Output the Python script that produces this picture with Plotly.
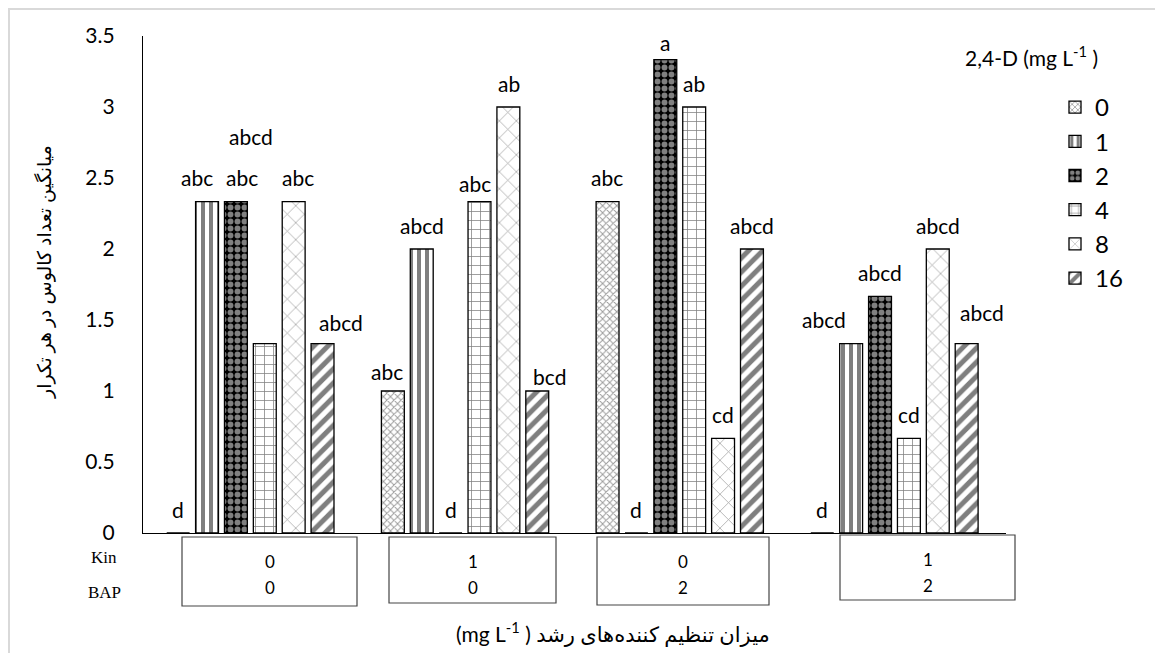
import plotly.graph_objects as go

# ---------------- data ----------------
kin = ["0", "1", "0", "1"]
bap = ["0", "0", "2", "2"]
categories = [f"Kin {k} / BAP {b}" for k, b in zip(kin, bap)]

series_names = ["0", "1", "2", "4", "8", "16"]
val_0 = [0.0, 1.0, 2.333, 0.0]
val_1 = [2.333, 2.0, 0.0, 1.333]
val_2 = [2.333, 0.0, 3.333, 1.667]
val_4 = [1.333, 2.333, 3.0, 0.667]
val_8 = [2.333, 3.0, 0.667, 2.0]
val_16 = [1.333, 1.0, 2.0, 1.333]
values = [val_0, val_1, val_2, val_4, val_8, val_16]

let_0 = ["d", "abc", "abc", "d"]
let_1 = ["abc", "abcd", "d", "abcd"]
let_2 = ["abc", "d", "a", "abcd"]
let_4 = ["abcd", "abc", "ab", "cd"]
let_8 = ["abc", "ab", "cd", "abcd"]
let_16 = ["abcd", "bcd", "abcd", "abcd"]
letters = [let_0, let_1, let_2, let_4, let_8, let_16]

y_tick_vals = [0, 0.5, 1, 1.5, 2, 2.5, 3, 3.5]

# ---------------- styling ----------------
PAGE_OFF = 8                      # default body margin of the html page
SW, SH = 1163, 653                # screen size
W, H = SW - PAGE_OFF, SH - PAGE_OFF
PL, PR, PT, PB = 143, 1006, 36, 533   # plot area in screen pixels
PW, PH = PR - PL, PB - PT
BARGAP, GROUPGAP = 0.193, 0.207
FONT = "Lato, 'DejaVu Sans', sans-serif"

def px(xp):
    return (xp - PL) / PW

def py(yp):
    return (PB - yp) / PH

patterns = [
    dict(shape="x", size=5, solidity=0.35, fgcolor="#333333", bgcolor="white"),
    dict(shape="|", size=8, solidity=0.5, fgcolor="black", bgcolor="white"),
    dict(shape=".", size=7, solidity=0.55, fgcolor="white", bgcolor="black"),
    dict(shape="+", size=9, solidity=0.16, fgcolor="black", bgcolor="white"),
    dict(shape="x", size=12, solidity=0.12, fgcolor="#444444", bgcolor="white"),
    dict(shape="/", size=10, solidity=0.5, fgcolor="black", bgcolor="white"),
]

fig = go.Figure()
for name, vals, pat in zip(series_names, values, patterns):
    fig.add_trace(go.Bar(
        name=name, x=categories, y=vals,
        marker=dict(color="white", pattern=pat,
                    line=dict(color="black", width=1.3)),
    ))

# letter labels above bars
slot = (PW / len(categories)) * (1 - BARGAP) / len(series_names)
label_nudge = {
    (0, 1): (-10, 0), (0, 2): (6, 0), (0, 3): (-14, 183), (0, 4): (4, 0), (0, 5): (18, -3),
    (1, 0): (-6, -4), (1, 3): (-5, -6), (1, 5): (12, -9),
    (2, 2): (0, -7),
    (3, 1): (-27, 0), (3, 5): (15, 7),
}
annotations = []
for si, (vals, labs) in enumerate(zip(values, letters)):
    for gi, (v, lab) in enumerate(zip(vals, labs)):
        dx, dy = label_nudge.get((gi, si), (0, 0))
        annotations.append(dict(
            x=categories[gi], y=v, xref="x", yref="y", text=lab, showarrow=False,
            xshift=(si - 2.5) * slot + dx, yshift=24 + dy,
            xanchor="center", yanchor="middle",
            font=dict(family=FONT, size=21, color="black"),
        ))

def paper_text(x, y, text, size, family=FONT, angle=0):
    return dict(x=px(x), y=py(y), xref="paper", yref="paper", text=text,
                showarrow=False, xanchor="center", yanchor="middle", textangle=angle,
                font=dict(family=family, size=size, color="black"))

# boxes with Kin/BAP values under the axis
boxes = [(182, 537, 357, 606), (389, 537, 556, 603), (597, 537, 769, 605), (840, 535, 1015, 600)]
shapes = []
for (x0, y0, x1, y1), k, b in zip(boxes, kin, bap):
    shapes.append(dict(type="rect", xref="paper", yref="paper",
                       x0=px(x0), x1=px(x1), y0=py(y1), y1=py(y0),
                       line=dict(color="#444444", width=1.2)))
    cx = (x0 + x1) / 2
    annotations.append(paper_text(cx, y0 + 24, k, 17))
    annotations.append(paper_text(cx, y0 + 50, b, 17))

serif = "'Liberation Serif', 'Times New Roman', serif"
annotations.append(paper_text(104, 557, "Kin", 17, serif))
annotations.append(paper_text(104, 592, "BAP", 17, serif))

# axis titles
annotations.append(paper_text(613, 633, "(mg L<sup>-1</sup> ) میزان تنظیم کننده‌های رشد", 21))
annotations.append(paper_text(44, 272, "میانگین تعداد کالوس در هر تکرار", 19, angle=-90))
# legend title
annotations.append(paper_text(1031, 56, "2,4-D (mg L<sup>-1</sup> )", 21))

# outer chart border
shapes.append(dict(type="rect", xref="paper", yref="paper",
                   x0=px(9), x1=px(SW + 20), y0=py(SH + 20), y1=py(9),
                   line=dict(color="#d9d9d9", width=2), layer="below"))

fig.update_layout(
    width=W, height=H,
    margin=dict(l=PL - PAGE_OFF, r=SW - PR, t=PT - PAGE_OFF, b=SH - PB, pad=0),
    paper_bgcolor="white", plot_bgcolor="white",
    barmode="group", bargap=BARGAP, bargroupgap=GROUPGAP,
    font=dict(family=FONT, color="black"),
    showlegend=True,
    legend=dict(x=px(1055), y=py(85), xanchor="left", yanchor="top",
                font=dict(family=FONT, size=24, color="black"),
                bgcolor="rgba(0,0,0,0)", itemclick=False),
    xaxis=dict(showticklabels=False, showline=True, linecolor="black", linewidth=1.3,
               ticks="", showgrid=False, zeroline=False, fixedrange=True),
    yaxis=dict(range=[0, 3.5], tickvals=y_tick_vals, showline=True, linecolor="black",
               linewidth=1.3, ticks="", showgrid=False, zeroline=False,
               ticklabelstandoff=23, tickfont=dict(family=FONT, size=21, color="black")),
    annotations=annotations, shapes=shapes,
)

fig.write_html("out.html")
